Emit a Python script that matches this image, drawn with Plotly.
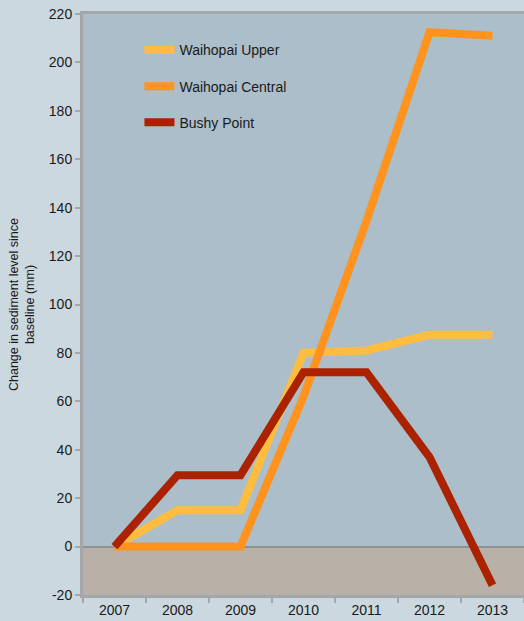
import plotly.graph_objects as go

years = ["2007", "2008", "2009", "2010", "2011", "2012", "2013"]
waihopai_upper = [0, 15, 15, 80, 81, 87.5, 87.5]
waihopai_central = [0, 0, 0, 62, 134.5, 212.5, 211]
bushy_point = [0, 29.5, 29.5, 72, 72, 37, -16]
y_ticks = [-20, 0, 20, 40, 60, 80, 100, 120, 140, 160, 180, 200, 220]
y_tick_labels = ["-20", "0", "20", "40", "60", "80", "100", "120", "140", "160", "180", "200", "220"]

series = [
    ("Waihopai Upper", waihopai_upper, "#ffbd3f"),
    ("Waihopai Central", waihopai_central, "#ff931e"),
    ("Bushy Point", bushy_point, "#ab2200"),
]

fig = go.Figure()
for i, (name, vals, col) in enumerate(series):
    fig.add_trace(go.Scatter(
        x=years, y=vals, name=name, mode="lines",
        line=dict(color=col, width=8),
        legendgroup=f"g{i}",
    ))

fig.add_shape(type="rect", xref="paper", yref="y", x0=0, x1=1, y0=-20, y1=0,
              fillcolor="#b9b0a7", line=dict(width=0), layer="below")

FAM = "Liberation Sans, Arial, sans-serif"
axis_font = dict(family=FAM, size=14, color="#1a1a1a")

fig.update_layout(
    width=524, height=621,
    margin=dict(l=83, r=0, t=14, b=26),
    paper_bgcolor="#cbd8e0",
    plot_bgcolor="#abbec9",
    font=axis_font,
    showlegend=True,
    legend=dict(
        x=0.128, y=0.965, xanchor="left", yanchor="top",
        bgcolor="rgba(0,0,0,0)", tracegroupgap=15,
        font=dict(family=FAM, size=14, color="#1a1a1a"),
    ),
    xaxis=dict(
        type="category", range=[-0.5, 6.5],
        showline=True, linecolor="#a4a7aa", linewidth=3, mirror=True,
        ticks="outside", tickson="boundaries", ticklen=5, tickcolor="#a4a7aa", tickwidth=2,
        showgrid=False, zeroline=False,
        tickfont=axis_font,
    ),
    yaxis=dict(
        range=[-20, 220], tickvals=y_ticks, ticktext=y_tick_labels,
        showline=True, linecolor="#a4a7aa", linewidth=3,
        ticks="outside", ticklen=5, tickcolor="#a4a7aa", tickwidth=2,
        showgrid=False, zeroline=True, zerolinecolor="#8b9399", zerolinewidth=2,
        tickfont=axis_font,
        title=dict(text="Change in sediment level since<br>baseline (mm)",
                   font=dict(family=FAM, size=12.5, color="#1a1a1a"),
                   standoff=12),
    ),
)

fig.write_html("out.html")
